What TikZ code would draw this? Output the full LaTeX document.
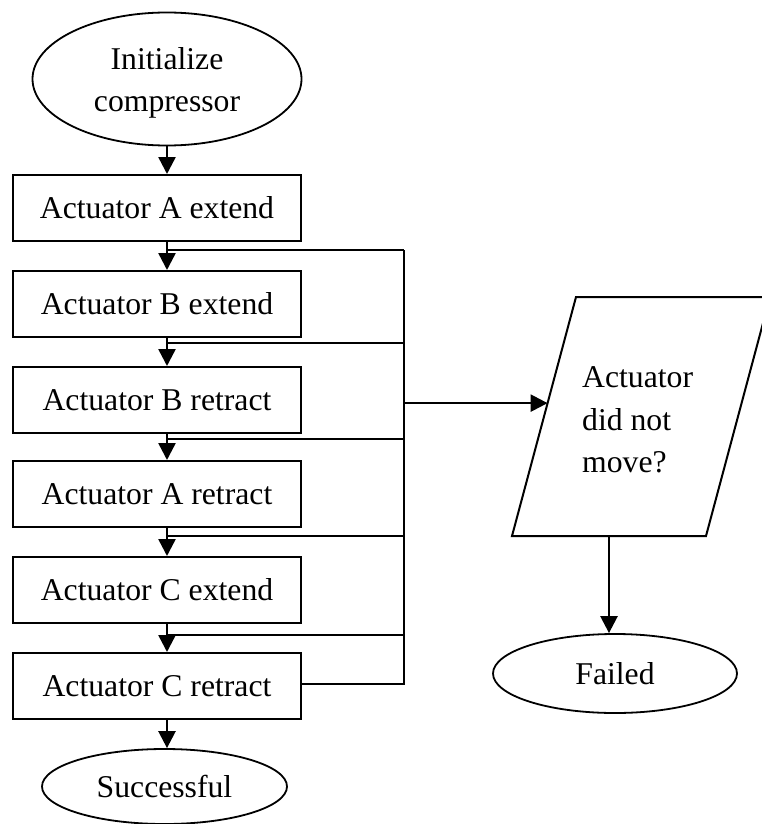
\documentclass[tikz,border=0pt]{standalone}
\usepackage{fontspec}
\setmainfont{Liberation Serif}
\usetikzlibrary{shapes.geometric,arrows.meta,calc}
\begin{document}
\begin{tikzpicture}[x=1pt,y=-1pt,
  every node/.style={font=\fontsize{31.7}{42.5}\selectfont, inner sep=0pt},
  stepbox/.style={draw, line width=2pt, rectangle, minimum width=288pt, minimum height=66pt},
  term/.style={draw, line width=1.8pt, ellipse},
  arr/.style={line width=2.5pt, -{Triangle[width=17pt,length=17pt]}},
  bus/.style={line width=2pt}]
\useasboundingbox (0,0) rectangle (762,824);

% start / end terminals
\node[term, minimum width=269pt, minimum height=133pt, align=center] (init) at (167,79) {\strut Initialize\\compressor};
\node[term, minimum width=245pt, minimum height=75pt] (succ) at (164.5,786.5) {Successful};
\node[term, minimum width=244pt, minimum height=79pt] (fail) at (615,673.5) {Failed};

% actuator steps
\node[stepbox] (b1) at (157,208) {Actuator A extend};
\node[stepbox] (b2) at (157,304) {Actuator B extend};
\node[stepbox] (b3) at (157,400) {Actuator B retract};
\node[stepbox] (b4) at (157,494) {Actuator A retract};
\node[stepbox] (b5) at (157,590) {Actuator C extend};
\node[stepbox] (b6) at (157,686) {Actuator C retract};

% check for motion: slanted box with its question
\coordinate (ctl) at (576,297);
\coordinate (ctr) at (770,297);
\coordinate (cbr) at (706,536);
\coordinate (cbl) at (512,536);
\draw[line width=2pt, line join=miter] (ctl) -- (ctr) -- (cbr) -- (cbl) -- cycle;
\node[align=left, anchor=west] (chk) at (582,420) {Actuator\\did not\\move?};
\coordinate (cbot) at ($(cbl)!0.5!(cbr)$);

% main sequence
\draw[arr] (init.south) -- (init.south |- b1.north);
\foreach \a/\b in {b1/b2,b2/b3,b3/b4,b4/b5,b5/b6,b6/succ}
  \draw[arr] ([xshift=10pt]\a.south) -- ([xshift=10pt]\a.south |- \b.north);

% taps from each step into the check bus
\coordinate (bustop) at (404,250);
\coordinate (j1) at (167,250);
\coordinate (j2) at (167,343);
\coordinate (j3) at (167,439);
\coordinate (j4) at (167,536);
\coordinate (j5) at (167,635);
\foreach \j in {j1,j2,j3,j4,j5}
  \draw[bus] (\j) -- (\j -| bustop);
\draw[bus] ([yshift=2pt]b6.east) -| (bustop);

% bus into the check, check into failure
\coordinate (hit) at ($(ctl)!0.444!(cbl)$);
\draw[arr] (hit -| bustop) -- (hit);
\draw[arr] (cbot) -- (cbot |- fail.north);
\end{tikzpicture}
\end{document}
